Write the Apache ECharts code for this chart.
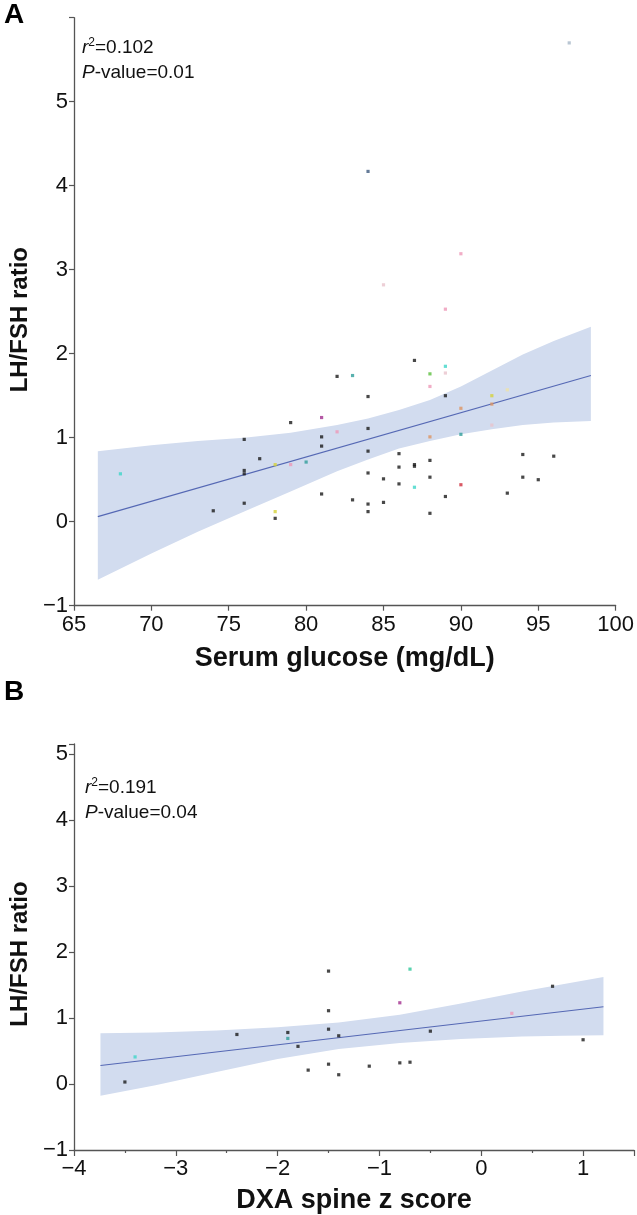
<!DOCTYPE html>
<html><head><meta charset="utf-8">
<script src="https://cdn.jsdelivr.net/npm/echarts@6/dist/echarts.min.js"></script>
<style>html,body{margin:0;padding:0;background:#fff}#c{width:637px;height:1215px}</style>
</head><body><div id="c"></div>
<script>
// ---------- Panel A: Serum glucose vs LH/FSH ratio ----------
const blackA = [[74,0.13],[76,0.98],[76,0.61],[76,0.57],[76,0.22],[77,0.75],[78,0.04],[79,1.18],
  [81,1.01],[81,0.90],[81,0.33],[82,1.73],[83,0.26],[84,1.49],[84,1.11],[84,0.84],[84,0.58],
  [84,0.21],[84,0.12],[85,0.51],[85,0.23],[86,0.81],[86,0.65],[86,0.45],[87,1.92],[87,0.68],
  [87,0.66],[88,0.73],[88,0.53],[88,0.10],[89,1.50],[89,0.30],[93,0.34],[94,0.80],[94,0.53],
  [95,0.50],[96,0.78]];
const cyanA = [[68,0.57],[87,0.41],[89,1.85]];
const tealA = [[80,0.71],[83,1.74],[90,1.04]];
const yellowA = [[78,0.68],[78,0.12],[92,1.50]];
const paleYellowA = [[93,1.57]];
const pinkA = [[79,0.68],[82,1.07],[88,1.61],[89,2.53],[90,3.19]];
const lightPinkA = [[85,2.82],[89,1.77],[92,1.15]];
const magentaA = [[81,1.24]];
const greenA = [[88,1.76]];
const orangeA = [[88,1.01],[90,1.35],[92,1.40]];
const redA = [[90,0.44]];
const slateA = [[84,4.17]];
const paleBlueA = [[97,5.70]];
const fitA = [[66.54,0.06],[98.4,1.74]];
const bandAx     = [66.54, 70, 73, 76, 79, 82, 84, 86, 88, 90, 92, 94, 96, 98.4];
const bandAUpper = [0.84, 0.91, 0.96, 1.00, 1.06, 1.15, 1.23, 1.33, 1.45, 1.61, 1.80, 1.99, 2.15, 2.32];
const bandALower = [-0.69, -0.38, -0.12, 0.12, 0.36, 0.60, 0.74, 0.87, 0.96, 1.04, 1.10, 1.15, 1.18, 1.20];
const statsA = ['0.102', '0.01'];

// ---------- Panel B: DXA spine z score vs LH/FSH ratio ----------
const blackB = [[-3.5,0.03],[-2.4,0.75],[-1.9,0.78],[-1.8,0.57],[-1.7,0.21],[-1.5,1.71],[-1.5,1.11],
  [-1.5,0.83],[-1.5,0.30],[-1.4,0.73],[-1.4,0.14],[-1.1,0.27],[-0.8,0.32],[-0.7,0.33],[-0.5,0.80],
  [0.7,1.48],[1.0,0.67]];
const cyanB = [[-3.4,0.41]];
const tealB = [[-1.9,0.69]];
const greenB = [[-0.7,1.74]];
const magentaB = [[-0.8,1.23]];
const pinkB = [[0.3,1.07]];
const fitB = [[-3.74,0.28],[1.2,1.17]];
const bandBx     = [-3.74, -3.2, -2.6, -2.0, -1.4, -0.8, -0.2, 0.4, 0.8, 1.2];
const bandBUpper = [0.77, 0.78, 0.81, 0.86, 0.93, 1.05, 1.22, 1.40, 1.51, 1.62];
const bandBLower = [-0.18, -0.02, 0.18, 0.38, 0.53, 0.62, 0.68, 0.72, 0.73, 0.74];
const statsB = ['0.191', '0.04'];

const FONT = 'Liberation Sans, Arial, Helvetica, sans-serif';
const AX = '#555';
const fmtNum = v => (v < 0 ? '\u2212' + Math.abs(v) : String(v));
const intLabel = maxShown => v => (Math.abs(v - Math.round(v)) < 1e-9 && v <= maxShown ? fmtNum(Math.round(v)) : '');

function bandSeries(gi, xs, up, lo) {
  return {
    type: 'custom', xAxisIndex: gi, yAxisIndex: gi, z: 1, silent: true,
    data: xs.map((x, i) => [x, lo[i], up[i]]),
    encode: { x: 0, y: [1, 2] },
    renderItem: function (params, api) {
      if (params.dataIndex !== 0) return null;
      const pts = [];
      for (let i = 0; i < xs.length; i++) pts.push(api.coord([xs[i], up[i]]));
      for (let i = xs.length - 1; i >= 0; i--) pts.push(api.coord([xs[i], lo[i]]));
      return { type: 'polygon', shape: { points: pts }, style: { fill: '#d2dcef', stroke: null } };
    }
  };
}
function fitSeries(gi, data) {
  return { type: 'line', xAxisIndex: gi, yAxisIndex: gi, z: 3, data: data, symbol: 'none', silent: true,
    lineStyle: { color: '#5568b4', width: 1.2 } };
}
function pts(gi, data, color) {
  return { type: 'scatter', xAxisIndex: gi, yAxisIndex: gi, z: 4, data: data, symbol: 'rect',
    symbolSize: 3.2, itemStyle: { color: color }, silent: true };
}
function statsText(left, top, r2, p) {
  return { type: 'text', left: left, top: top, z: 10,
    style: {
      text: '{i|r}{s|2}{n|=' + r2 + '}\n{i|P}{n|-value=' + p + '}',
      rich: {
        i: { fontStyle: 'italic', fontSize: 19, fontFamily: FONT, fill: '#111', lineHeight: 25 },
        n: { fontSize: 19, fontFamily: FONT, fill: '#111', lineHeight: 25 },
        s: { fontSize: 12, fontFamily: FONT, fill: '#111', verticalAlign: 'top', lineHeight: 25, padding: [2, 0, 0, 0] }
      }
    } };
}
const axisCommon = {
  axisLine: { show: true, onZero: false, lineStyle: { color: AX, width: 1.3 } },
  axisTick: { show: true, length: 5, lineStyle: { color: AX, width: 1.2 } },
  splitLine: { show: false }
};
const xNameStyle = { fontSize: 27, fontWeight: 'bold', color: '#111', fontFamily: FONT };
const yNameStyle = pad => ({ fontSize: 24, fontWeight: 'bold', color: '#111', fontFamily: FONT, padding: pad });

const option = {
  backgroundColor: '#fff',
  animation: false,
  grid: [
    { left: 57.3, top: 17.7, width: 561.7, height: 588 },
    { left: 65.7, top: 744, width: 573.7, height: 407.7 }
  ],
  xAxis: [
    Object.assign({}, axisCommon, { gridIndex: 0, type: 'value', min: 65, max: 100, interval: 5,
      axisLabel: { fontSize: 22, color: '#111', margin: 8, fontFamily: FONT, formatter: v => String(v) },
      name: 'Serum glucose (mg/dL)', nameLocation: 'middle', nameGap: 39, nameTextStyle: xNameStyle }),
    Object.assign({}, axisCommon, { gridIndex: 1, type: 'value', min: -4, max: 1.5, interval: 1,
      axisTick: { show: true, length: 6, lineStyle: { color: AX, width: 1.2 } },
      minorTick: { show: true, splitNumber: 2, length: 3, lineStyle: { color: AX, width: 1.2 } },
      axisLabel: { fontSize: 22, color: '#111', margin: 8, fontFamily: FONT, formatter: intLabel(1) },
      name: 'DXA spine z score', nameLocation: 'middle', nameGap: 37, nameTextStyle: xNameStyle })
  ],
  yAxis: [
    Object.assign({}, axisCommon, { gridIndex: 0, type: 'value', min: -1, max: 6, interval: 1,
      axisLabel: { fontSize: 22, color: '#111', margin: 6, fontFamily: FONT, formatter: intLabel(5) },
      name: 'LH/FSH ratio', nameLocation: 'middle', nameGap: 29, nameTextStyle: yNameStyle([0, 16, 0, 0]) }),
    Object.assign({}, axisCommon, { gridIndex: 1, type: 'value', min: -1, max: 5.15, interval: 1,
      axisLabel: { fontSize: 22, color: '#111', margin: 6, fontFamily: FONT, formatter: intLabel(5) },
      name: 'LH/FSH ratio', nameLocation: 'middle', nameGap: 37, nameTextStyle: yNameStyle([0, 14, 0, 0]) })
  ],
  graphic: [
    { type: 'text', left: 4, top: 1, style: { text: 'A', fontSize: 28, fontWeight: 'bold', fontFamily: FONT, fill: '#000' } },
    { type: 'text', left: 4, top: 678, style: { text: 'B', fontSize: 28, fontWeight: 'bold', fontFamily: FONT, fill: '#000' } },
    statsText(82, 35, statsA[0], statsA[1]),
    statsText(85, 775, statsB[0], statsB[1])
  ],
  series: [
    bandSeries(0, bandAx, bandAUpper, bandALower),
    fitSeries(0, fitA),
    pts(0, blackA, '#1a1a1a'), pts(0, cyanA, '#3fd6c8'), pts(0, tealA, '#2f9e9a'),
    pts(0, yellowA, '#d6d23a'), pts(0, paleYellowA, '#efe2a6'), pts(0, pinkA, '#ee98b8'),
    pts(0, lightPinkA, '#e9c3cc'), pts(0, magentaA, '#a3308f'), pts(0, greenA, '#5cbf3f'),
    pts(0, orangeA, '#dd9361'), pts(0, redA, '#d0303f'), pts(0, slateA, '#3e5a7e'),
    pts(0, paleBlueA, '#a8b8c8'),
    bandSeries(1, bandBx, bandBUpper, bandBLower),
    fitSeries(1, fitB),
    pts(1, blackB, '#1a1a1a'), pts(1, cyanB, '#3fd6c8'), pts(1, tealB, '#2f9e9a'),
    pts(1, greenB, '#2ec79a'), pts(1, magentaB, '#a3308f'), pts(1, pinkB, '#ee98b8')
  ]
};
const chart = echarts.init(document.getElementById('c'), null, { renderer: 'canvas' });
chart.setOption(option);
</script></body></html>
